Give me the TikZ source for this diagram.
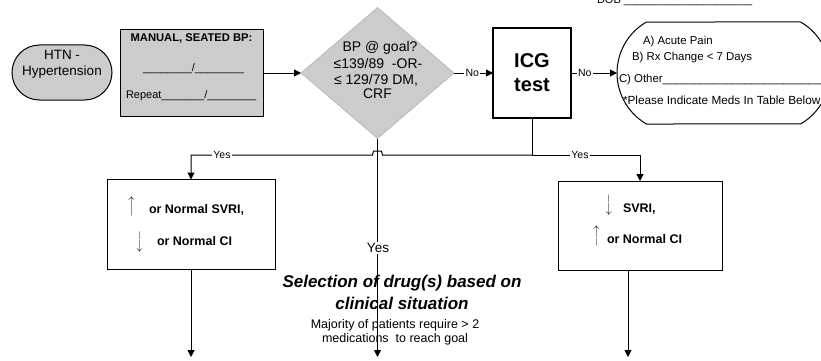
\documentclass[tikz,border=0pt]{standalone}
\usepackage{fontspec}
\usepackage{graphicx}
\setmainfont{Liberation Sans}
\usetikzlibrary{shapes.geometric,shapes.misc,arrows.meta,calc}
\begin{document}
\begin{tikzpicture}[x=1pt,y=-1pt,
  every node/.style={inner sep=0pt, outer sep=0pt},
  tip/.style={-{Triangle[length=7pt,width=7pt]}},
  ln/.style={line width=1pt},
  fs/.style={font=\fontsize{#1}{#1}\selectfont},
  fb/.style={font=\bfseries\fontsize{#1}{#1}\selectfont},
  lbl/.style={fill=white, inner sep=1.2pt, font=\fontsize{10.5}{12}\selectfont},
  greybox/.style={draw, ln, fill=gray!40},
  arr/.style={font=\fontsize{10.5}{10.5}\selectfont},
]
\useasboundingbox (0,0) rectangle (821,361);

% DOB line at top
\node[fs=11, anchor=base west] (dob) at (597,4) {DOB \_\_\_\_\_\_\_\_\_\_\_\_\_\_\_\_\_\_\_\_\_};

% HTN terminal
\node[rounded rectangle, greybox, minimum width=100pt, minimum height=55pt] (htn) at (62,72.5) {};
\node[fs=13.5] (htn1) at (62,55) {HTN -};
\node[fs=13.5] (htn2) at (62,72.5) {Hypertension};

% Manual BP box
\node[greybox, minimum width=143pt, minimum height=87pt] (man) at (191.5,73) {};
\node[fb=11.2] (man1) at (191.5,38) {MANUAL, SEATED BP:};
\node[fs=11, anchor=base] (man2) at (193.5,71.5) {\_\_\_\_\_\_\_\_/\_\_\_\_\_\_\_\_};
\node[fs=11, anchor=base west] (man3) at (126,98) {Repeat\_\_\_\_\_\_\_/\_\_\_\_\_\_\_\_};

% Decision diamond
\node[diamond, draw=gray!70, fill=gray!40, minimum width=153pt, minimum height=131pt] (dia) at (377.5,73) {};
\node[fs=14] (d1) at (380,48) {BP @ goal?};
\node[fs=14] (d2) at (378,63.5) {≤139/89\ \ -OR-};
\node[fs=14] (d3) at (376,80) {≤ 129/79 DM,};
\node[fs=14] (d4) at (377.5,94) {CRF};

% ICG test
\node[draw, line width=2pt, minimum width=78pt, minimum height=90pt, align=center,
      font=\bfseries\fontsize{20}{24}\selectfont] (icg) at (532,73) {ICG\\test};

% Options terminal
\node[rounded rectangle, rounded rectangle arc length=120, draw, ln, fill=white,
      minimum width=213pt, minimum height=102pt] (opt) at (723.5,73) {};
\node[fs=11.4, anchor=west] (o1) at (643,42) {A) Acute Pain};
\node[fs=11.4, anchor=west] (o2) at (632,58) {B) Rx Change < 7 Days};
\node[fs=11.4, anchor=west] (o3) at (619,80) {C) Other\_\_\_\_\_\_\_\_\_\_\_\_\_\_\_\_\_\_\_\_\_\_\_\_\_\_\_\_};
\node[fs=11.8, anchor=west] (o4) at (623,100) {*Please Indicate Meds In Table Below};

% Result boxes
\node[draw, ln, minimum width=168pt, minimum height=90pt] (lbox) at (191,224.5) {};
\node[arr] (la1) at (132,206.5) {\rotatebox{90}{\scalebox{1.25}[1]{$\longrightarrow$}}};
\node[fb=12.5, anchor=west] (lt1) at (149,210) {or Normal SVRI,};
\node[arr] (la2) at (139,242) {\rotatebox{-90}{\scalebox{1.25}[1]{$\longrightarrow$}}};
\node[fb=12.5, anchor=west] (lt2) at (157,241) {or Normal CI};

\node[draw, ln, minimum width=164pt, minimum height=89pt] (rbox) at (640,225.5) {};
\node[arr] (ra1) at (608,205) {\rotatebox{-90}{\scalebox{1.25}[1]{$\longrightarrow$}}};
\node[fb=12.5, anchor=west] (rt1) at (623,209) {SVRI,};
\node[arr] (ra2) at (597,236) {\rotatebox{90}{\scalebox{1.25}[1]{$\longrightarrow$}}};
\node[fb=12.5, anchor=west] (rt2) at (607,239) {or Normal CI};

% Middle text
\node[font=\bfseries\itshape\fontsize{17}{20}\selectfont] (s1) at (402,283) {Selection of drug(s) based on};
\node[font=\bfseries\itshape\fontsize{17}{20}\selectfont] (s2) at (402,303) {clinical situation};
\node[fs=12.5] (m1) at (395,325) {Majority of patients require > 2};
\node[fs=12.5] (m2) at (395,339) {medications\ \ to reach goal};

% helper coordinates
\coordinate (yl) at (0,155);
\coordinate (bot) at (0,357);
\coordinate (rx) at (628,0);

% Connectors
\draw[ln,tip] (man) -- (dia);
\draw[ln,tip] (dia) -- node[lbl, pos=0.47] (no1) {No} (icg);
\draw[ln,tip] (icg) -- node[lbl, pos=0.3] (no2) {No} (opt);

\draw[ln] (icg.south) -- (icg.south |- yl);
\draw[ln,tip] (icg.south |- yl) -- ($(dia.south |- yl)+(5,0)$) -- ++(-1,-4) -- ++(-8,0) -- ++(-1,4)
   -- (lbox.north |- yl) -- (lbox.north);
\draw[ln,tip] (icg.south |- yl) -- (rbox.north |- yl) -- (rbox.north);
\node[lbl] (yes1) at (222,155) {Yes};
\node[lbl] (yes2) at (580,155) {Yes};

\draw[ln,tip] (dia.south) -- (dia.south |- bot);
\node[fill=white, inner sep=1.5pt, fs=13.5] (yes3) at (378,248) {Yes};

\draw[ln,tip] (lbox.south) -- (lbox.south |- bot);
\draw[ln,tip] (rx |- rbox.south) -- (rx |- bot);
\end{tikzpicture}
\end{document}
